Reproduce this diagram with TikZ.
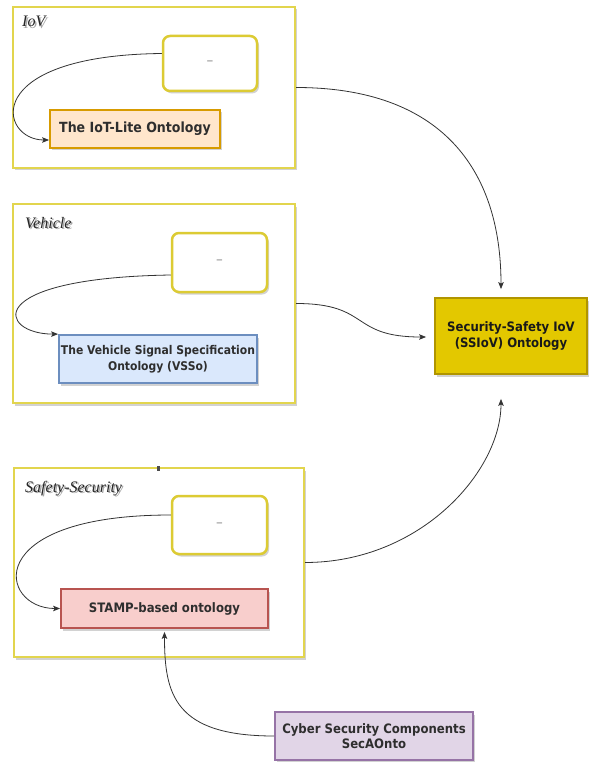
\documentclass[tikz,border=0pt]{standalone}
\usepackage{fontspec}
\setmainfont{Liberation Serif}
\newfontfamily\boxfont[FakeStretch=0.9]{DejaVu Sans}
\usetikzlibrary{arrows.meta,shadows}

\definecolor{grpline}{HTML}{E2D54E}
\definecolor{subline}{HTML}{DCCB34}
\definecolor{iotfill}{HTML}{FFE6CC}
\definecolor{iotline}{HTML}{D79B00}
\definecolor{vssfill}{HTML}{DAE8FC}
\definecolor{vssline}{HTML}{6C8EBF}
\definecolor{stampfill}{HTML}{F8CECC}
\definecolor{stampline}{HTML}{B85450}
\definecolor{cyberfill}{HTML}{E1D5E7}
\definecolor{cyberline}{HTML}{9673A6}
\definecolor{ssfill}{HTML}{E3C800}
\definecolor{ssline}{HTML}{B09500}
\definecolor{linkcol}{HTML}{333333}

\tikzset{
  softshadow/.style={drop shadow={shadow xshift=2pt,shadow yshift=-2.5pt,opacity=0.25,fill=black!70}},
  group/.style={draw=grpline,line width=2pt,fill=white,softshadow,inner sep=0pt},
  subbox/.style={draw=subline,line width=2.5pt,fill=white,rounded corners=7pt,softshadow,
    inner sep=0pt,text=black!40,font=\boxfont\fontsize{15}{15}\selectfont},
  onto/.style={draw=#1line,fill=#1fill,line width=1.8pt,softshadow,inner sep=0pt,align=center,
    text=black!82,font=\boxfont\bfseries\fontsize{13}{15.5}\selectfont},
  grptitle/.style={inner sep=0pt,anchor=base west,text=black!85,
    font=\fontsize{16}{19}\selectfont\itshape},
  grpshade/.style={grptitle,text=black,opacity=0.35},
  link/.style={draw=linkcol,line width=0.8pt,-{Stealth[length=7pt,width=5.5pt,inset=1.5pt]}}
}

\begin{document}
\begin{tikzpicture}[x=1pt,y=-1pt]
\useasboundingbox (0,0) rectangle (589,762);

% ---- group containers ----
\node[group,minimum width=282pt,minimum height=161pt] (iov) at (154,87.5) {};
\node[group,minimum width=282pt,minimum height=199pt] (veh) at (154,303.5) {};
\node[group,minimum width=290pt,minimum height=189pt] (safe) at (159,562.5) {};

% small mark on the top edge of the safety group
\fill[black!70] (157,466) rectangle (159.5,470.5);

% ---- group titles (with a soft text shadow) ----
\node[grpshade] (iovts) at (23.5,28.5) {IoV};
\node[grptitle] (iovt) at (22,27) {IoV};
\node[grpshade] (vehts) at (26.5,229.5) {Vehicle};
\node[grptitle] (veht) at (25,228) {Vehicle};
\node[grpshade] (safets) at (26.5,493.5) {Safety-Security};
\node[grptitle] (safet) at (25,492) {Safety-Security};

% ---- placeholder boxes ----
\node[subbox,minimum width=94pt,minimum height=55pt] (w1) at (210,63.5) {\textendash};
\node[subbox,minimum width=95pt,minimum height=59pt] (w2) at (219.5,262.5) {\textendash};
\node[subbox,minimum width=95pt,minimum height=58pt] (w3) at (219.5,525) {\textendash};

% ---- ontologies ----
\node[onto=iot,minimum width=170pt,minimum height=38pt,
      font=\boxfont\bfseries\fontsize{14}{16}\selectfont] (iot) at (135,129) {The IoT-Lite Ontology};
\node[onto=vss,minimum width=198pt,minimum height=48pt,
      font=\boxfont\bfseries\fontsize{12}{15.5}\selectfont] (vss) at (158,359)
      {The Vehicle Signal Specification\\Ontology (VSSo)};
\node[onto=stamp,minimum width=207pt,minimum height=39pt] (stamp) at (164.5,608.5) {STAMP-based ontology};
\node[onto=cyber,minimum width=198pt,minimum height=48pt] (cyber) at (374,736)
      {Cyber Security Components\\SecAOnto};
\node[onto=ss,minimum width=152pt,minimum height=76pt,text=black!90] (ssiov) at (511,336)
      {Security-Safety IoV\\(SSIoV) Ontology};

% ---- connectors inside the groups ----
\draw[link] ([yshift=10pt]w1.west) .. controls +(-183,2) and +(-50,0) .. ([yshift=-11pt]iot.west);
\draw[link] ([yshift=-12.5pt]w2.west) .. controls +(-192,3) and +(-59,0) .. (vss.north west);
\draw[link] ([yshift=10pt]w3.west) .. controls +(-192,0) and +(-61,0) .. (stamp.west);
\draw[link] (cyber.west) .. controls +(-100,0) and +(0,62) .. ([yshift=-3pt]stamp.south);

% ---- connectors into the SSIoV ontology ----
\draw[link] (iov.east) .. controls +(145,0) and +(0,-120) .. ([xshift=-10pt,yshift=8pt]ssiov.north);
\draw[link] (veh.east) .. controls +(75,0) and +(-77,0) .. ([xshift=-8pt,yshift=-1pt]ssiov.west);
\draw[link] (safe.east) .. controls +(116,0) and +(0,72) .. ([xshift=-10pt,yshift=-24pt]ssiov.south);
\end{tikzpicture}
\end{document}
